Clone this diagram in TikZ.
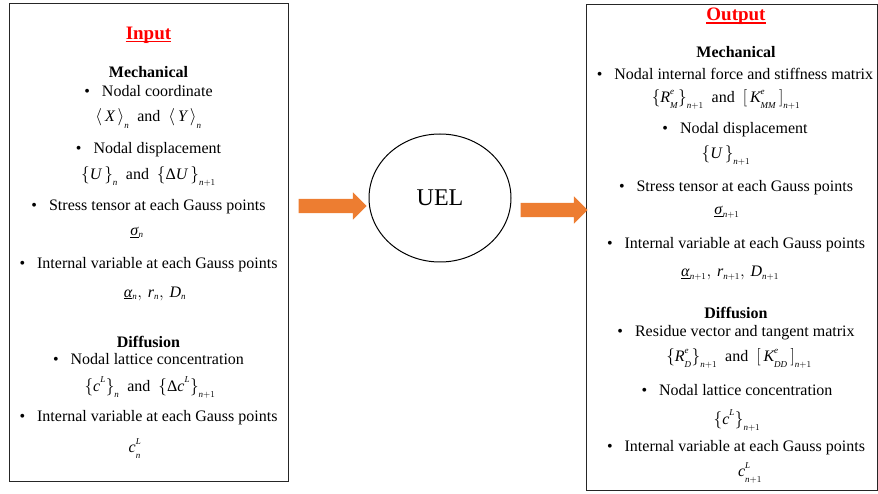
\documentclass[tikz,border=0pt]{standalone}
\usepackage{fontspec}
\setmainfont{Liberation Serif}
\usetikzlibrary{shapes.geometric,shapes.arrows}
\DeclareMathSizes{16}{16}{9}{7}
\definecolor{arrorange}{HTML}{ED7D31}
\newcommand{\mv}[1]{\mathit{#1}}
\newcommand{\bul}{\textbullet\hspace{12pt}}
\newcommand{\su}[1]{^{\raisebox{2pt}{$\scriptstyle #1$}}}
\newcommand{\sd}[1]{_{\raisebox{-1.5pt}{$\scriptstyle #1$}}}
\tikzset{
  frame/.style={draw=black!85, line width=1.2pt, anchor=north west, inner sep=0pt},
  ttl/.style={font=\fontsize{19}{22}\selectfont\bfseries, text=red, inner sep=0pt},
  ttlline/.style={draw=red, line width=1.2pt},
  hd/.style={font=\fontsize{16}{19}\selectfont\bfseries, inner sep=0pt},
  tx/.style={font=\fontsize{16}{19}\selectfont, inner sep=0pt},
  oarrow/.style={single arrow, fill=arrorange, draw=none, inner xsep=0pt, inner ysep=7pt,
    minimum width=27pt, single arrow head extend=6.5pt, single arrow tip angle=90},
  uelnode/.style={draw, ellipse, line width=1pt, minimum width=142pt, minimum height=128pt,
    inner sep=0pt, font=\fontsize{24}{28}\selectfont}
}
\begin{document}
\begin{tikzpicture}[x=1pt,y=-1pt]
\useasboundingbox (0,0) rectangle (878,494);
% boxes
\node[frame, minimum width=279pt, minimum height=478pt] (inbox) at (9,3) {};
\node[frame, minimum width=291pt, minimum height=486pt] (outbox) at (586,4) {};
% UEL
\node[uelnode] (uel) at (440,198) {UEL};
% arrows
\node[oarrow, minimum height=68pt] (arrL) at (329,206) {};
\node[oarrow, minimum height=67pt] (arrR) at (550.5,210) {};

\begin{scope}[yshift=-1.5pt]
% ---- Input ----
\node[ttl] (inT) at (148.5,34) {Input};
\draw[ttlline] ([yshift=-2.2pt]inT.base west) -- ([yshift=-2.2pt]inT.base east);
\node[hd] (inM) at (148.5,71) {Mechanical};
\node[tx] (in1) at (148.5,90) {\bul Nodal coordinate};
\node[tx] (in2) at (148.5,117) {$\big\langle\,\mv{X}\,\big\rangle\sd{\mv{n}}$\ \ and\ \ $\big\langle\,\mv{Y}\,\big\rangle\sd{\mv{n}}$};
\node[tx] (in3) at (148.5,148) {\bul Nodal displacement};
\node[tx] (in4) at (148.5,175) {$\big\{\mv{U}\,\big\}\sd{\mv{n}}$\ \ and\ \ $\big\{\mbox{Δ}\mv{U}\,\big\}\sd{\mv{n}+1}$};
\node[tx] (in5) at (148.5,205) {\bul Stress tensor at each Gauss points};
\node[tx] (in6) at (137,231) {$\underline{\mbox{\textit{σ}}}_{\mv{n}}$};
\node[tx] (in7) at (148.5,263) {\bul Internal variable at each Gauss points};
\node[tx] (in8) at (155,292) {$\underline{\mbox{\textit{α}}}_{\mv{n}},\, \mv{r}_{\mv{n}},\, \mv{D}_{\mv{n}}$};
\node[hd] (inD) at (148.5,340) {Diffusion};
\node[tx] (in9) at (148.5,358) {\bul Nodal lattice concentration};
\node[tx] (in10) at (150,386) {$\big\{\mv{c}\su{\mv{L}}\big\}\sd{\mv{n}}$\ \ and\ \ $\big\{\mbox{Δ}\mv{c}\su{\mv{L}}\big\}\sd{\mv{n}+1}$};
\node[tx] (in11) at (148.5,416) {\bul Internal variable at each Gauss points};
\node[tx] (in12) at (135,447) {$\mv{c}\su{\mv{L}}\sd{\mv{n}}$};

% ---- Output ----
\node[ttl] (outT) at (736,15) {Output};
\draw[ttlline] ([yshift=-2.2pt]outT.base west) -- ([yshift=-2.2pt]outT.base east);
\node[hd] (outM) at (736,51) {Mechanical};
\node[tx] (o1) at (735,72) {\bul Nodal internal force and stiffness matrix};
\node[tx] (o2) at (726,98) {$\big\{\mv{R}\su{\mv{e}}\sd{\mv{M}}\big\}\sd{\mv{n}+1}$\ \ and\ \ $\big[\,\mv{K}\su{\mv{e}}\sd{\mv{MM}}\,\big]\sd{\mv{n}+1}$};
\node[tx] (o3) at (735,128) {\bul Nodal displacement};
\node[tx] (o4) at (726,154) {$\big\{\mv{U}\,\big\}\sd{\mv{n}+1}$};
\node[tx] (o5) at (736,186) {\bul Stress tensor at each Gauss points};
\node[tx] (o6) at (727,211) {$\underline{\mbox{\textit{σ}}}_{\mv{n}+1}$};
\node[tx] (o7) at (736,243) {\bul Internal variable at each Gauss points};
\node[tx] (o8) at (730,272) {$\underline{\mbox{\textit{α}}}_{\mv{n}+1},\, \mv{r}_{\mv{n}+1},\, \mv{D}_{\mv{n}+1}$};
\node[hd] (outD) at (736,311) {Diffusion};
\node[tx] (o9) at (736,331) {\bul Residue vector and tangent matrix};
\node[tx] (o10) at (739,357) {$\big\{\mv{R}\su{\mv{e}}\sd{\mv{D}}\big\}\sd{\mv{n}+1}$\ \ and\ \ $\big[\,\mv{K}\su{\mv{e}}\sd{\mv{DD}}\,\big]\sd{\mv{n}+1}$};
\node[tx] (o11) at (737,389) {\bul Nodal lattice concentration};
\node[tx] (o12) at (737,419) {$\big\{\mv{c}\su{\mv{L}}\big\}\sd{\mv{n}+1}$};
\node[tx] (o13) at (736,446) {\bul Internal variable at each Gauss points};
\node[tx] (o14) at (750,471) {$\mv{c}\su{\mv{L}}\sd{\mv{n}+1}$};
\end{scope}
\end{tikzpicture}
\end{document}
